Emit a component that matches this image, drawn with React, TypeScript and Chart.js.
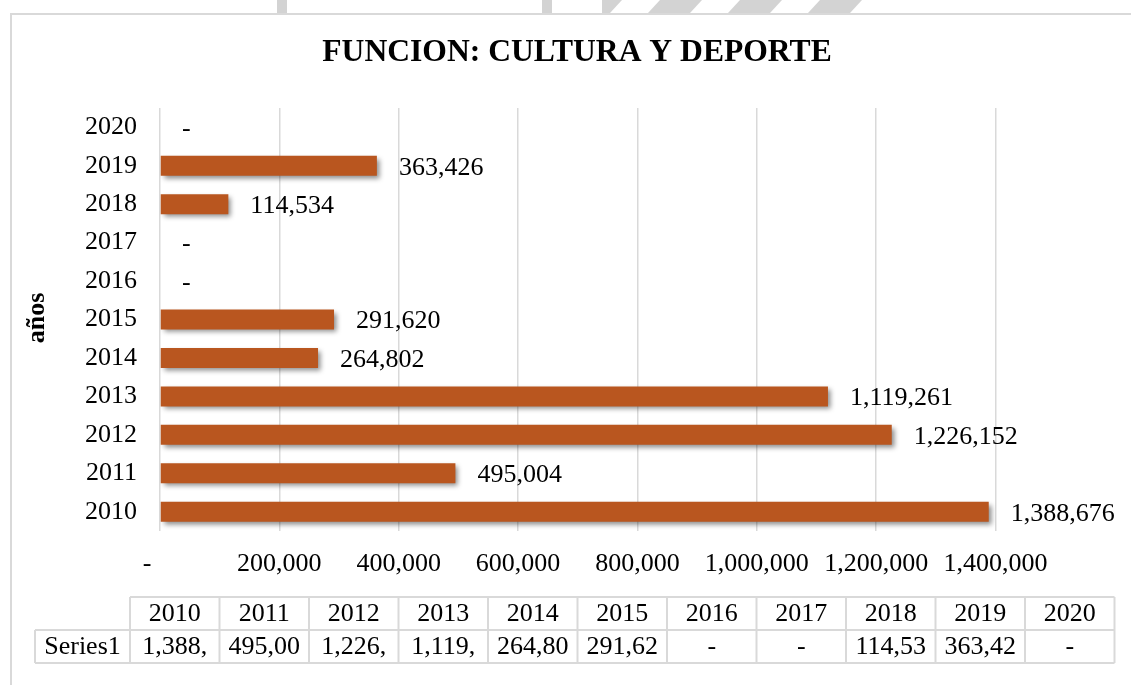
import React, { useEffect, useRef } from 'react';
import { Chart, registerables } from 'chart.js';

Chart.register(...registerables);

const chartTitle = 'FUNCION: CULTURA Y DEPORTE';
const yAxisTitle = 'años';
const seriesName = 'Series1';
const years = ['2010', '2011', '2012', '2013', '2014', '2015', '2016', '2017', '2018', '2019', '2020'];
const values = [1388676, 495004, 1226152, 1119261, 264802, 291620, 0, 0, 114534, 363426, 0];
const xMin = 0;
const xMax = 1400000;
const xStep = 200000;

const FONT = '"Liberation Serif", "Times New Roman", serif';
const BAR_COLOR = 'rgb(185,86,31)';
const GRID = '#D9D9D9';

const fmt = (v: number) => (v === 0 ? '-' : v.toLocaleString('en-US'));

const decorPlugin = {
  id: 'decor',
  beforeDraw(chart: any) {
    const ctx = chart.ctx as CanvasRenderingContext2D;
    const W = chart.width;
    const H = chart.height;
    ctx.save();
    ctx.fillStyle = '#ffffff';
    ctx.fillRect(0, 0, W, H);
    // watermark remnants above the frame
    ctx.fillStyle = '#D3D3D3';
    ctx.fillRect(277, 0, 10, 13);
    ctx.fillRect(542, 0, 10, 13);
    ctx.save();
    ctx.beginPath();
    ctx.rect(602, 0, 260, 13);
    ctx.clip();
    for (let xt = 580; xt <= 860; xt += 80) {
      ctx.beginPath();
      ctx.moveTo(xt, 0);
      ctx.lineTo(xt + 42, 0);
      ctx.lineTo(xt + 30, 13);
      ctx.lineTo(xt - 12, 13);
      ctx.closePath();
      ctx.fill();
    }
    ctx.restore();
    // frame
    ctx.strokeStyle = GRID;
    ctx.lineWidth = 2;
    ctx.beginPath();
    ctx.moveTo(W + 2, 14);
    ctx.lineTo(11, 14);
    ctx.lineTo(11, H + 2);
    ctx.stroke();
    // title
    ctx.fillStyle = '#000';
    ctx.font = `bold 31.6px ${FONT}`;
    ctx.textAlign = 'center';
    ctx.textBaseline = 'middle';
    ctx.fillText(chartTitle, 577, 53);
    // y-axis title
    ctx.save();
    ctx.translate(37, 318);
    ctx.rotate(-Math.PI / 2);
    ctx.font = `bold 26px ${FONT}`;
    ctx.fillText(yAxisTitle, 0, 0);
    ctx.restore();
    ctx.restore();
  },
  beforeDatasetsDraw(chart: any) {
    const ctx = chart.ctx as CanvasRenderingContext2D;
    ctx.save();
    ctx.shadowColor = 'rgba(0,0,0,0.45)';
    ctx.shadowBlur = 5;
    ctx.shadowOffsetX = 3;
    ctx.shadowOffsetY = 3;
  },
  afterDatasetsDraw(chart: any) {
    const ctx = chart.ctx as CanvasRenderingContext2D;
    ctx.restore();
    const meta = chart.getDatasetMeta(0);
    ctx.save();
    ctx.fillStyle = '#000';
    ctx.font = `26px ${FONT}`;
    ctx.textAlign = 'left';
    ctx.textBaseline = 'middle';
    meta.data.forEach((bar: any, i: number) => {
      const v = values[i];
      ctx.fillText(fmt(v), bar.x + 22, bar.y + 2);
    });
    ctx.restore();
  },
  afterDraw(chart: any) {
    const ctx = chart.ctx as CanvasRenderingContext2D;
    const left = 130;
    const colW = 89.5;
    const labelLeft = 35;
    const r0 = 597;
    const r1 = 630;
    const r2 = 663;
    const right = left + colW * years.length;
    ctx.save();
    ctx.strokeStyle = GRID;
    ctx.lineWidth = 2;
    ctx.beginPath();
    ctx.moveTo(left, r0);
    ctx.lineTo(right, r0);
    ctx.moveTo(labelLeft, r1);
    ctx.lineTo(right, r1);
    ctx.moveTo(labelLeft, r2);
    ctx.lineTo(right, r2);
    ctx.moveTo(labelLeft, r1);
    ctx.lineTo(labelLeft, r2);
    for (let i = 0; i <= years.length; i++) {
      const x = left + colW * i;
      ctx.moveTo(x, r0);
      ctx.lineTo(x, r2);
    }
    ctx.stroke();
    ctx.fillStyle = '#000';
    ctx.font = `26px ${FONT}`;
    ctx.textAlign = 'center';
    ctx.textBaseline = 'middle';
    ctx.fillText(seriesName, (labelLeft + left) / 2, (r1 + r2) / 2 + 1);
    const maxW = colW - 14;
    years.forEach((y, i) => {
      const cx = left + colW * (i + 0.5);
      ctx.fillText(y, cx, (r0 + r1) / 2 + 1);
      let t = fmt(values[i]);
      while (t.length > 1 && ctx.measureText(t).width > maxW) t = t.slice(0, -1);
      ctx.fillText(t, cx, (r1 + r2) / 2 + 1);
    });
    ctx.restore();
  },
};

export default function App() {
  const ref = useRef<HTMLCanvasElement | null>(null);
  useEffect(() => {
    if (!ref.current) return;
    const chart = new Chart(ref.current, {
      type: 'bar',
      data: {
        labels: years,
        datasets: [
          {
            label: seriesName,
            data: values,
            backgroundColor: BAR_COLOR,
            borderWidth: 0,
            barPercentage: 0.52,
            categoryPercentage: 1,
          },
        ],
      },
      options: {
        indexAxis: 'y',
        animation: false,
        responsive: false,
        devicePixelRatio: 1,
        layout: { padding: { left: 0, top: 108, right: 135.5, bottom: 94 } },
        plugins: {
          legend: { display: false },
          title: { display: false },
          tooltip: { enabled: false },
        },
        scales: {
          x: {
            type: 'linear',
            min: xMin,
            max: xMax,
            afterFit(scale: any) {
              scale.height = 60;
            },
            ticks: {
              stepSize: xStep,
              padding: 18,
              color: '#000',
              font: { family: FONT, size: 26 },
              callback: (v: any) => (Number(v) === 0 ? '-    ' : fmt(Number(v))),
              maxRotation: 0,
              autoSkip: false,
            },
            grid: { color: GRID, lineWidth: 1.5, drawTicks: false },
            border: { display: false },
          },
          y: {
            type: 'category',
            reverse: true,
            afterFit(scale: any) {
              scale.width = 160;
            },
            ticks: {
              padding: 23,
              color: '#000',
              font: { family: FONT, size: 26 },
            },
            grid: { display: false, drawTicks: false },
            border: { display: false },
          },
        },
      },
      plugins: [decorPlugin],
    });
    return () => chart.destroy();
  }, []);
  return (
    <div style={{ position: 'fixed', left: 0, top: 0, width: 1131, height: 685, background: '#fff' }}>
      <canvas ref={ref} width={1131} height={685} style={{ display: 'block' }} />
    </div>
  );
}
